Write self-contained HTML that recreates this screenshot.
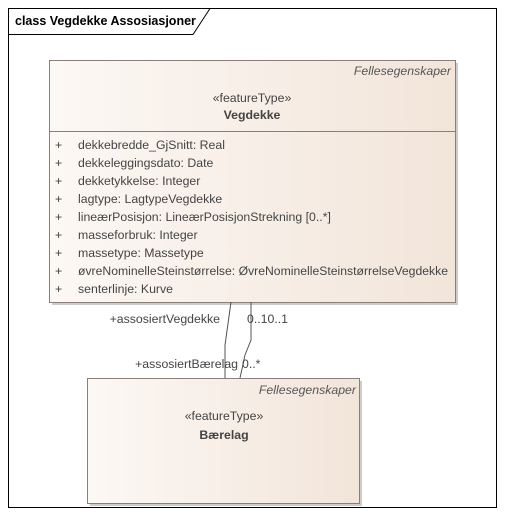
<!DOCTYPE html>
<html><head><style>body{margin:0;background:#fff}svg{display:block}</style></head><body>
<svg width="505" height="516" xmlns="http://www.w3.org/2000/svg" font-family="Liberation Sans, sans-serif" font-size="12.3" fill="#333">
<defs>
<linearGradient id="g" x1="0" x2="1" y1="0" y2="0"><stop offset="0" stop-color="#fcf8f4"/><stop offset="1" stop-color="#f2e5da"/></linearGradient>
</defs>
<rect x="8.5" y="8.5" width="488" height="499" fill="#fff" stroke="#000"/>
<path d="M8.5 34.5 H193 L210 8.5" fill="none" stroke="#000"/>
<text x="15" y="25" font-size="12.5" font-weight="bold" fill="#000">class Vegdekke Assosiasjoner</text>
<rect x="52" y="63" width="406" height="242" fill="#ccc"/>
<rect x="49.5" y="60.5" width="406" height="242" fill="url(#g)" stroke="#8a7e78"/>
<line x1="49.5" y1="131.5" x2="455.5" y2="131.5" stroke="#8a7e78"/>
<text x="451" y="75" text-anchor="end" font-style="italic" fill="#555">Fellesegenskaper</text>
<text x="252" y="102" text-anchor="middle" fill="#444">«featureType»</text>
<text x="252" y="119" text-anchor="middle" font-weight="bold" fill="#444">Vegdekke</text>
<g fill="#444">
<text x="55" y="149">+</text><text x="78" y="149">dekkebredde_GjSnitt: Real</text>
<text x="55" y="167">+</text><text x="78" y="167">dekkeleggingsdato: Date</text>
<text x="55" y="185">+</text><text x="78" y="185">dekketykkelse: Integer</text>
<text x="55" y="203">+</text><text x="78" y="203">lagtype: LagtypeVegdekke</text>
<text x="55" y="221">+</text><text x="78" y="221">lineærPosisjon: LineærPosisjonStrekning [0..*]</text>
<text x="55" y="239">+</text><text x="78" y="239">masseforbruk: Integer</text>
<text x="55" y="257">+</text><text x="78" y="257">massetype: Massetype</text>
<text x="55" y="275">+</text><text x="78" y="275" textLength="370" lengthAdjust="spacingAndGlyphs">øvreNominelleSteinstørrelse: ØvreNominelleSteinstørrelseVegdekke</text>
<text x="55" y="293">+</text><text x="78" y="293">senterlinje: Kurve</text>
</g>
<path d="M231 302 L225 345 L225 378" fill="none" stroke="#555"/>
<path d="M251 302 L251 340 L245 355 L240 378" fill="none" stroke="#555"/>
<text x="220" y="323" text-anchor="end" fill="#444">+assosiertVegdekke</text>
<text x="247" y="323" fill="#444">0..10..1</text>
<text x="238" y="368" text-anchor="end" fill="#444">+assosiertBærelag</text>
<text x="242" y="368" fill="#444">0..*</text>
<rect x="90" y="381" width="272" height="125" fill="#ccc"/>
<rect x="87.5" y="378.5" width="272" height="125" fill="url(#g)" stroke="#8a7e78"/>
<text x="356" y="394" text-anchor="end" font-style="italic" fill="#555">Fellesegenskaper</text>
<text x="224" y="420" text-anchor="middle" fill="#444">«featureType»</text>
<text x="224" y="439" text-anchor="middle" font-weight="bold" fill="#444">Bærelag</text>
</svg>
</body></html>
